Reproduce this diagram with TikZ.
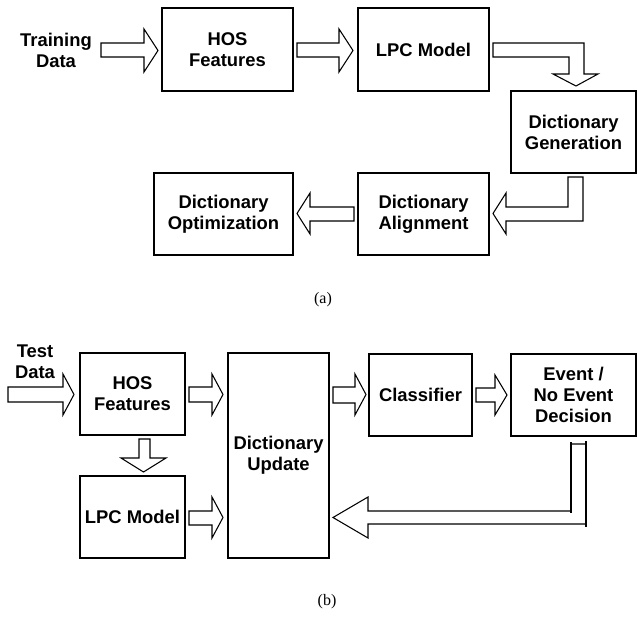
\documentclass[tikz,border=0pt]{standalone}
\usepackage{fontspec}
\setmainfont{Liberation Sans}
\newfontfamily\capfont{Liberation Serif}
\usetikzlibrary{fit}
\begin{document}
\begin{tikzpicture}[x=0.75pt,y=-0.75pt,
  boxnode/.style={draw,line width=0.9pt,inner sep=0pt,align=center,
    font=\fontsize{13.8}{15.8}\selectfont\bfseries},
  lbl/.style={align=center,inner sep=0pt,font=\fontsize{13.8}{15.8}\selectfont\bfseries},
  blk/.style={draw,line width=0.8pt,fill=white,line join=miter},
  captext/.style={inner sep=0pt,font=\capfont\fontsize{12}{14}\selectfont}]
\useasboundingbox (0,0) rectangle (637,618);
% ---------- (a) ----------
\node[lbl] (train) at (56,50) {Training\\Data};
\node[boxnode,fit={(162,8) (293,91)}] (hosA) {};
\node[lbl] at (hosA.center) {HOS\\Features};
\node[boxnode,fit={(358,8) (489,91)}] (lpcA) {};
\node[lbl] at (lpcA.center) {LPC Model};
\node[boxnode,fit={(511,91) (636,173)}] (gen) {};
\node[lbl] at (gen.center) {Dictionary\\Generation};
\node[boxnode,fit={(358,173) (489,255)}] (align) {};
\node[lbl] at (align.center) {Dictionary\\Alignment};
\node[boxnode,fit={(154,173) (293,255)}] (opt) {};
\node[lbl] at (opt.center) {Dictionary\\Optimization};
% block arrows (a)
\draw[blk] (101,43) -- (144,43) -- (144,29) -- (158,50.5) -- (144,72) -- (144,57) -- (101,57) -- cycle;
\draw[blk] (297,43) -- (339,43) -- (339,29) -- (353,50.5) -- (339,72) -- (339,57) -- (297,57) -- cycle;
\draw[blk] (493,43) -- (584,43) -- (584,74) -- (598,74) -- (576,86) -- (553,74) -- (569,74) -- (569,57) -- (493,57) -- cycle;
\draw[blk] (568,177) -- (583,177) -- (583,221) -- (506,221) -- (506,234) -- (493,213.5) -- (506,193) -- (506,207) -- (568,207) -- cycle;
\draw[blk] (354,207) -- (310,207) -- (310,193) -- (297,213.5) -- (310,234) -- (310,221) -- (354,221) -- cycle;
\node[captext] (capa) at (323,300) {(a)};
% ---------- (b) ----------
\node[lbl] (test) at (35,362) {Test\\Data};
\node[boxnode,fit={(80,353) (185,435)}] (hosB) {};
\node[lbl] at (hosB.center) {HOS\\Features};
\node[boxnode,fit={(80,476) (185,558)}] (lpcB) {};
\node[lbl] at (lpcB.center) {LPC Model};
\node[boxnode,fit={(228,353) (329,558)}] (upd) {};
\node[lbl] at (upd.center) {Dictionary\\Update};
\node[boxnode,fit={(369,354) (472,436)}] (cls) {};
\node[lbl] at (cls.center) {Classifier};
\node[boxnode,fit={(511,354) (636,436)}] (evt) {};
\node[lbl] at (evt.center) {Event /\\No Event\\Decision};
% block arrows (b)
\draw[blk] (8,387) -- (63,387) -- (63,374) -- (74,394.5) -- (63,415) -- (63,402) -- (8,402) -- cycle;
\draw[blk] (189,387) -- (212,387) -- (212,374) -- (223,394.5) -- (212,415) -- (212,402) -- (189,402) -- cycle;
\draw[blk] (189,511) -- (212,511) -- (212,497) -- (223,517.5) -- (212,538) -- (212,525) -- (189,525) -- cycle;
\draw[blk] (139,439) -- (150,439) -- (150,458) -- (166,458) -- (143.5,472) -- (121,458) -- (139,458) -- cycle;
\draw[blk] (333,387) -- (355,387) -- (355,374) -- (366,394.5) -- (355,415) -- (355,403) -- (333,403) -- cycle;
\draw[blk] (476,388) -- (495,388) -- (495,375) -- (507,395) -- (495,415) -- (495,402) -- (476,402) -- cycle;
% feedback arrow
\draw[blk] (571,444) -- (571,511) -- (368,511) -- (368,497) -- (333,517.5) -- (368,538) -- (368,524) -- (586,524) -- (586,444) -- cycle;
\draw[line width=0.8pt] (571,442) -- (571,513);
\draw[line width=0.8pt] (586,441) -- (586,527);
\node[captext] (capb) at (327,602) {(b)};
\end{tikzpicture}
\end{document}
